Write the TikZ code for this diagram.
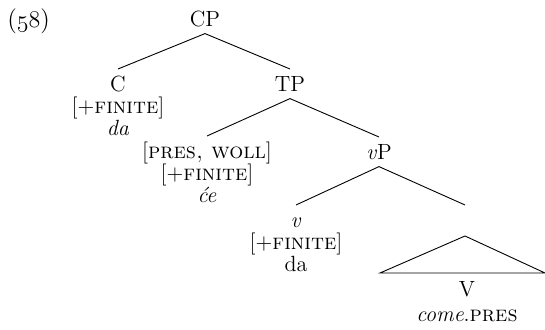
\documentclass[tikz,border=0pt]{standalone}
\usepackage{fontspec}
\begin{document}
\begin{tikzpicture}[x=0.5pt,y=-0.5pt,
  lab/.style={anchor=base,inner sep=0pt,font=\fontsize{11}{13}\selectfont},
  edge/.style={line width=0.45pt},
  up/.style={yshift=11.5pt},
  dn/.style={yshift=-3.3pt}]
\useasboundingbox (0,0) rectangle (545,330);
% example number
\node[lab,anchor=base west,font=\fontsize{12.5}{14}\selectfont] (num) at (7,28) {({\usefont{OML}{cmm}{m}{it}58})};
% CP
\node[lab] (CP) at (205,27) {CP};
\node[lab] (C) at (118,92) {C};
\node[lab] (Cf) at (118,114) {[+\textsc{finite}]};
\node[lab] (Cda) at (118,136) {\textit{da}};
\node[lab] (TP) at (290,92) {TP};
\node[lab] (T) at (207,159) {[\textsc{pres, woll}]};
\node[lab] (Tf) at (207,181) {[+\textsc{finite}]};
\node[lab] (Tce) at (207,203) {\textit{će}};
\node[lab] (vP) at (379,160) {\textit{v}P};
\node[lab] (v) at (296,228) {\textit{v}};
\node[lab] (vf) at (296,250) {[+\textsc{finite}]};
\node[lab] (vda) at (296,272) {da};
\coordinate (vr) at (465,205);
\coordinate (tri) at (465,236);
\coordinate (tril) at (380,273);
\coordinate (trir) at (545,273);
\node[lab] (V) at (467,297) {V};
\node[lab] (Vc) at (467,322) {\textit{come}.\textsc{pres}};
% edges
\draw[edge] ([dn]CP.base) -- ([up]C.base);
\draw[edge] ([dn]CP.base) -- ([up]TP.base);
\draw[edge] ([dn]TP.base) -- ([up]T.base);
\draw[edge] ([dn]TP.base) -- ([up]vP.base);
\draw[edge] ([dn]vP.base) -- ([up]v.base);
\draw[edge] ([dn]vP.base) -- (vr);
\draw[edge] (tri) -- (tril) -- (trir) -- cycle;
\end{tikzpicture}
\end{document}
